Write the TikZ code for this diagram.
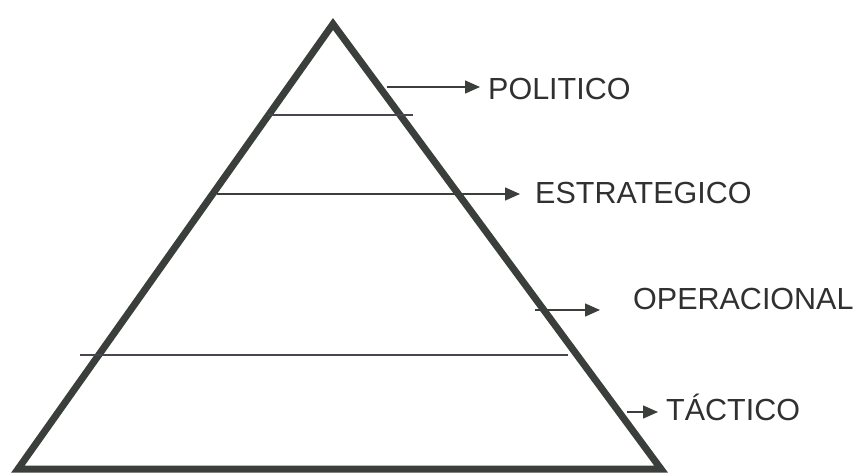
\documentclass[tikz,border=0pt]{standalone}
\usepackage{fontspec}
\setmainfont{Liberation Sans}
\RequirePackage{xcolor}
\usetikzlibrary{arrows.meta}
\usetikzlibrary{positioning}

\definecolor{pyrgray}{HTML}{3A3F3C}
\definecolor{levelgray}{HTML}{4A4650}
\definecolor{labelgray}{HTML}{303030}

\tikzset{
  pyramid/.style={draw=pyrgray, line width=7pt, line join=miter},
  levelline/.style={draw=levelgray, line width=1.4pt},
  levelarrow/.style={draw=pyrgray, line width=1.5pt,
    -{Triangle[length=15pt,width=13pt]}},
  levellabel/.style={anchor=west, inner sep=0pt, text=labelgray,
    font=\fontsize{30.5}{36}\selectfont},
}

\begin{document}
\begin{tikzpicture}[x=1pt, y=-1pt]
  \useasboundingbox (0,0) rectangle (864,472);

  % pyramid
  \coordinate (apex) at (333,24);
  \coordinate (bl) at (18,469);
  \coordinate (br) at (661,469);
  \draw[pyramid] (apex) -- (br) -- (bl) -- cycle;

  % level lines
  \coordinate (l1a) at (268,115);
  \coordinate (l1b) at (413,115);
  \coordinate (l3a) at (80,355);
  \coordinate (l3b) at (568,355);
  \draw[levelline] (l1a) -- (l1b);
  \draw[levelline] (l3a) -- (l3b);

  % labels
  \node[levellabel] (pol) at (488,89)  {POLITICO};
  \node[levellabel] (est) at (535,193) {ESTRATEGICO};
  \node[levellabel] (ope) at (633,299) {OPERACIONAL};
  \node[levellabel] (tac) at (666,407) {TÁCTICO};

  % arrows
  \coordinate (a1) at (387,87);
  \coordinate (a2) at (217,194);
  \coordinate (a3) at (535,310);
  \coordinate (a4) at (627,412);
  \draw[levelarrow, shorten >=8pt]  (a1) -- (a1 -| pol.west);
  \draw[levelarrow, shorten >=15pt] (a2) -- (a2 -| est.west);
  \draw[levelarrow, shorten >=33pt] (a3) -- (a3 -| ope.west);
  \draw[levelarrow, shorten >=8pt]  (a4) -- (a4 -| tac.west);
\end{tikzpicture}
\end{document}
